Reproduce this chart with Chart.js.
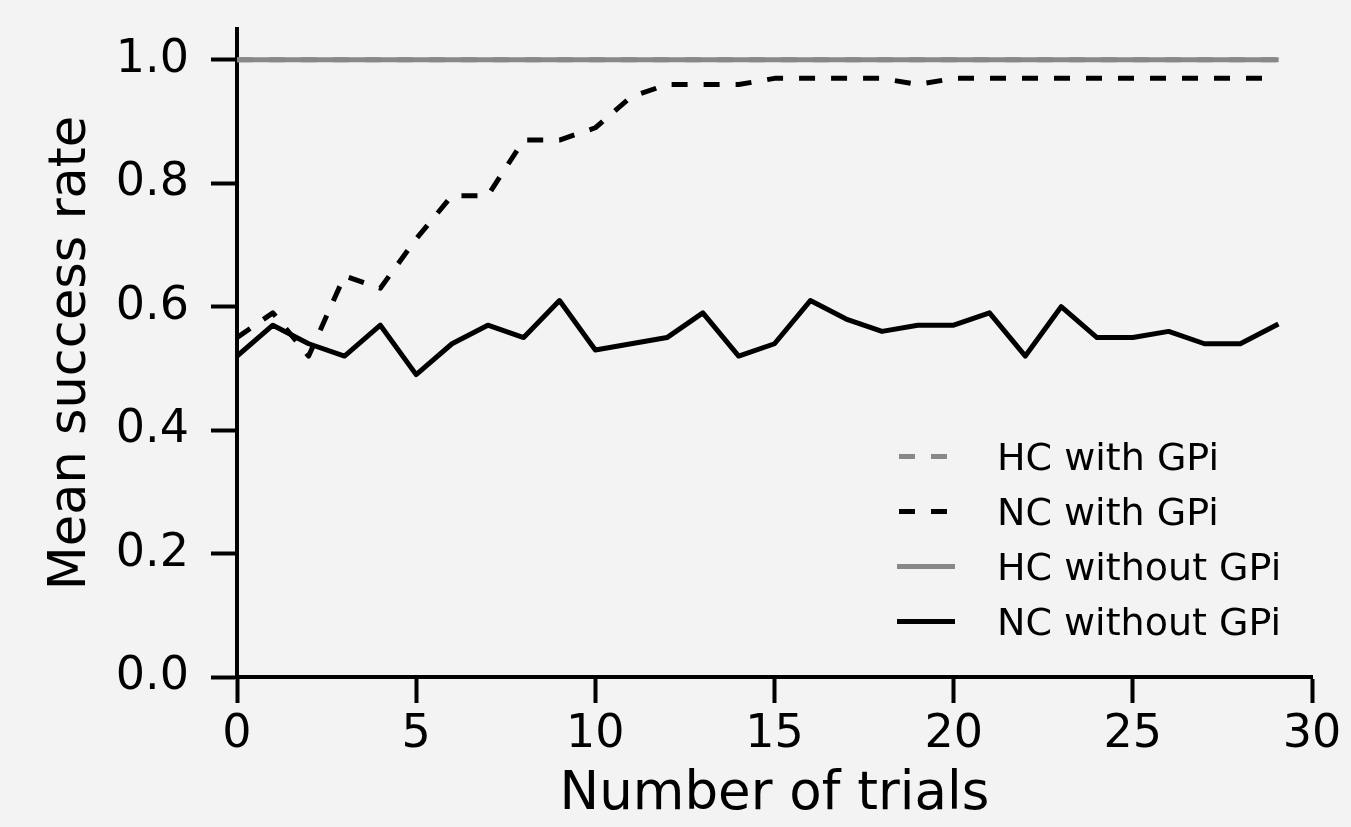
<!DOCTYPE html>
<html lang="en">
<head>
  <meta charset="UTF-8" />
  <title>Mean success rate vs number of trials</title>
  <script src="https://cdn.jsdelivr.net/npm/chart.js"></script>
  <style>
    html, body { margin: 0; padding: 0; background: #f3f3f3; }
    .wrap { width: 1351px; height: 827px; position: relative; }
  </style>
</head>
<body>
<div class="wrap"><canvas id="chart"></canvas></div>
<script>
  // values
  const trials = [0, 1, 2, 3, 4, 5, 6, 7, 8, 9, 10, 11, 12, 13, 14, 15, 16, 17, 18, 19, 20, 21, 22, 23, 24, 25, 26, 27, 28, 29];
  const hcWithGpi = [1, 1, 1, 1, 1, 1, 1, 1, 1, 1, 1, 1, 1, 1, 1, 1, 1, 1, 1, 1, 1, 1, 1, 1, 1, 1, 1, 1, 1, 1];
  const ncWithGpi = [0.55, 0.59, 0.52, 0.65, 0.63, 0.71, 0.78, 0.78, 0.87, 0.87, 0.89, 0.94, 0.96, 0.96, 0.96, 0.97, 0.97, 0.97, 0.97, 0.96, 0.97, 0.97, 0.97, 0.97, 0.97, 0.97, 0.97, 0.97, 0.97, 0.97];
  const hcWithoutGpi = [1, 1, 1, 1, 1, 1, 1, 1, 1, 1, 1, 1, 1, 1, 1, 1, 1, 1, 1, 1, 1, 1, 1, 1, 1, 1, 1, 1, 1, 1];
  const ncWithoutGpi = [0.52, 0.57, 0.54, 0.52, 0.57, 0.49, 0.54, 0.57, 0.55, 0.61, 0.53, 0.54, 0.55, 0.59, 0.52, 0.54, 0.61, 0.58, 0.56, 0.57, 0.57, 0.59, 0.52, 0.60, 0.55, 0.55, 0.56, 0.54, 0.54, 0.57];
  const xTicks = [0, 5, 10, 15, 20, 25, 30];
  const yTicks = [0, 0.2, 0.4, 0.6, 0.8, 1.0];

  const GRAY = "#888888";
  const FONT = "'DejaVu Sans', sans-serif";

  function pts(values) {
    return values.map((v, i) => ({ x: trials[i], y: v }));
  }

  // legend drawn inside the plot, lower right
  const insideLegend = {
    id: "insideLegend",
    afterDraw(chart) {
      const ctx = chart.ctx;
      ctx.save();
      chart.data.datasets.forEach((ds, i) => {
        const y = 456.5 + i * 55;
        ctx.beginPath();
        ctx.strokeStyle = ds.borderColor;
        ctx.lineWidth = 5;
        ctx.lineCap = "butt";
        ctx.setLineDash(ds.borderDash || []);
        ctx.moveTo(ds.borderDash ? 899 : 897, y);
        ctx.lineTo(955, y);
        ctx.stroke();
        ctx.setLineDash([]);
        ctx.fillStyle = "#000";
        ctx.font = "38px " + FONT;
        ctx.textAlign = "left";
        ctx.textBaseline = "alphabetic";
        ctx.fillText(ds.label, 997, y + 13);
      });
      ctx.restore();
    }
  };

  const bgPlugin = {
    id: "bg",
    beforeDraw(chart) {
      const ctx = chart.ctx;
      ctx.save();
      ctx.fillStyle = "#f3f3f3";
      ctx.fillRect(0, 0, chart.width, chart.height);
      ctx.restore();
    }
  };

  new Chart(document.getElementById("chart"), {
    type: "line",
    data: {
      datasets: [
        { label: "HC with GPi", data: pts(hcWithGpi), borderColor: GRAY, borderDash: [16, 16], borderCapStyle: "butt", order: 4 },
        { label: "NC with GPi", data: pts(ncWithGpi), borderColor: "#000", borderDash: [16, 16], borderCapStyle: "butt", order: 3 },
        { label: "HC without GPi", data: pts(hcWithoutGpi), borderColor: GRAY, borderCapStyle: "square", order: 2 },
        { label: "NC without GPi", data: pts(ncWithoutGpi), borderColor: "#000", borderCapStyle: "square", order: 1 }
      ]
    },
    options: {
      responsive: true,
      maintainAspectRatio: false,
      animation: false,
      devicePixelRatio: 1,
      layout: { padding: { top: 29, right: 39, left: 0, bottom: 0 } },
      elements: {
        point: { radius: 0 },
        line: { borderWidth: 5, tension: 0, borderJoinStyle: "round", fill: false }
      },
      plugins: {
        legend: { display: false },
        tooltip: { enabled: false }
      },
      scales: {
        x: {
          type: "linear",
          min: 0,
          max: 30,
          afterFit: (s) => { s.height = 150; s.paddingLeft = 0; s.paddingRight = 0; },
          afterBuildTicks: (s) => { s.ticks = xTicks.map(v => ({ value: v })); },
          grid: { drawOnChartArea: false, drawTicks: true, tickLength: 26, tickWidth: 4, tickColor: "#000" },
          border: { display: true, width: 4, color: "#000" },
          ticks: { color: "#000", padding: 4, maxRotation: 0, font: { family: FONT, size: 46 }, callback: v => String(v) },
          title: { display: true, text: "Number of trials", color: "#000", padding: { top: 0, bottom: 0 }, font: { family: FONT, size: 53 } }
        },
        y: {
          type: "linear",
          min: 0,
          max: 1.05,
          afterFit: (s) => { s.width = 237; s.paddingTop = 0; s.paddingBottom = 0; },
          afterBuildTicks: (s) => { s.ticks = yTicks.map(v => ({ value: v })); },
          grid: { drawOnChartArea: false, drawTicks: true, tickLength: 26, tickWidth: 4, tickColor: "#000" },
          border: { display: true, width: 4, color: "#000" },
          ticks: { color: "#000", padding: 22, font: { family: FONT, size: 46 }, callback: v => v.toFixed(1) },
          title: { display: true, text: "Mean success rate", color: "#000", padding: { top: 41, bottom: 0 }, font: { family: FONT, size: 51 } }
        }
      }
    },
    plugins: [bgPlugin, insideLegend]
  });
</script>
</body>
</html>
